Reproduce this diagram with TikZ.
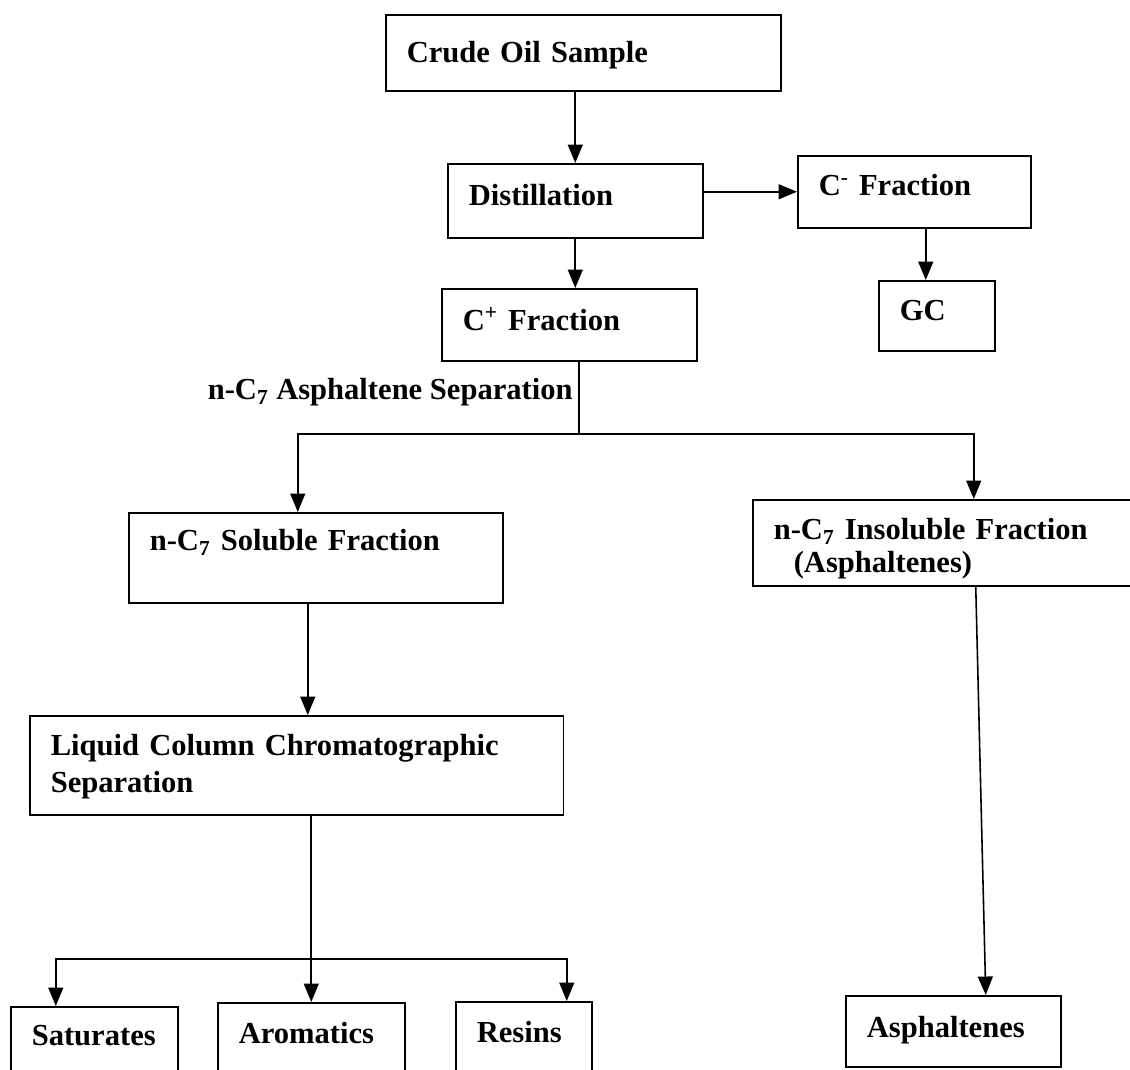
\documentclass[tikz,border=0pt]{standalone}
\usepackage{fontspec}
\setmainfont{Liberation Serif}
\usetikzlibrary{arrows.meta}
\begin{document}
\begin{tikzpicture}[x=0.02cm,y=-0.02cm,>={Triangle[length=10.5pt,width=8.5pt]},
        blk/.style={draw,line width=0.9pt,anchor=north west,align=left,inner xsep=0.42cm,inner ysep=0pt,
            font=\bfseries\fontsize{17.4}{21}\selectfont},
        lbl/.style={inner sep=0pt,font=\bfseries\fontsize{17.4}{21}\selectfont},
        con/.style={line width=0.9pt}]
        \useasboundingbox (0,0) rectangle (1130,1070);
        \clip (0,0) rectangle (1130,1070);
        % campione, distillazione e frazioni leggere
        \node[blk,text width=7.06cm,text height=0.96cm,text depth=0.56cm] (crude) at (385,14) {Crude Oil Sample};
        \node[blk,text width=4.26cm,text height=0.84cm,text depth=0.64cm] (distill) at (447,163) {Distillation};
        \node[blk,text width=3.82cm,text height=0.80cm,text depth=0.64cm] (cminus) at (797,155) {C\textsuperscript{-} Fraction};
        \node[blk,text width=1.48cm,text height=0.80cm,text depth=0.60cm] (gc) at (878,280) {GC};
        \node[blk,text width=4.26cm,text height=0.84cm,text depth=0.60cm] (cplus) at (441,288) {C\textsuperscript{+} Fraction};
        % separazione asfalteni
        \node[lbl,anchor=base east] (seplbl) at (573,400) {n-C\textsubscript{7} Asphaltene Separation};
        \node[blk,text width=6.64cm,text height=0.76cm,text depth=1.04cm] (sol) at (128,512) {n-C\textsubscript{7} Soluble Fraction};
        \node[blk,text width=7.02cm,text height=0.80cm,text depth=0.92cm,
            font=\bfseries\fontsize{17.4}{18.5}\selectfont] (insol) at (752,499)
            {n-C\textsubscript{7} Insoluble Fraction\\\hspace*{0.4cm}(Asphaltenes)};
        \node[blk,text width=9.84cm,text height=0.80cm,text depth=1.18cm] (lcc) at (29,715)
            {Liquid Column Chromatographic\\Separation};
        % frazioni SARA
        \node[blk,text width=2.50cm,text height=0.78cm,text depth=0.70cm] (sat) at (10,1006) {Saturates};
        \node[blk,text width=2.90cm,text height=0.82cm,text depth=0.74cm] (arom) at (217,1002) {Aromatics};
        \node[blk,text width=1.88cm,text height=0.82cm,text depth=0.76cm] (res) at (455,1001) {Resins};
        \node[blk,text width=3.46cm,text height=0.84cm,text depth=0.58cm] (asph) at (845,995) {Asphaltenes};
        % collegamenti
        \draw[con,->] (crude.south -| distill.north) -- (distill.north);
        \draw[con,->] (distill.east |- cminus.west) -- (cminus.west);
        \draw[con,->] ([xshift=0.23cm]cminus.south) -- ([xshift=0.23cm]cminus.south |- gc.north);
        \draw[con,->] (distill.south) -- (distill.south |- cplus.north);
        \coordinate (fork) at (579,434);
        \draw[con] (cplus.south -| fork) -- (fork);
        \draw[con,->] (fork) -| ([xshift=-0.36cm]sol.north);
        \draw[con,->] (fork) -| ([xshift=0.49cm]insol.north);
        \draw[con,->] ([xshift=-0.16cm]sol.south) -- ([xshift=-0.16cm]sol.south |- lcc.north);
        \coordinate (fork2) at (310,959);
        \draw[con,->] (lcc.south -| arom.north) -- (arom.north);
        \draw[con,->] (fork2) -| ([xshift=-0.77cm]sat.north);
        \draw[con,->] (fork2) -| ([xshift=0.86cm]res.north);
        \draw[con,->] ([xshift=0.53cm]insol.south) -- ([xshift=0.65cm]asph.north);
    \end{tikzpicture}
\end{document}
